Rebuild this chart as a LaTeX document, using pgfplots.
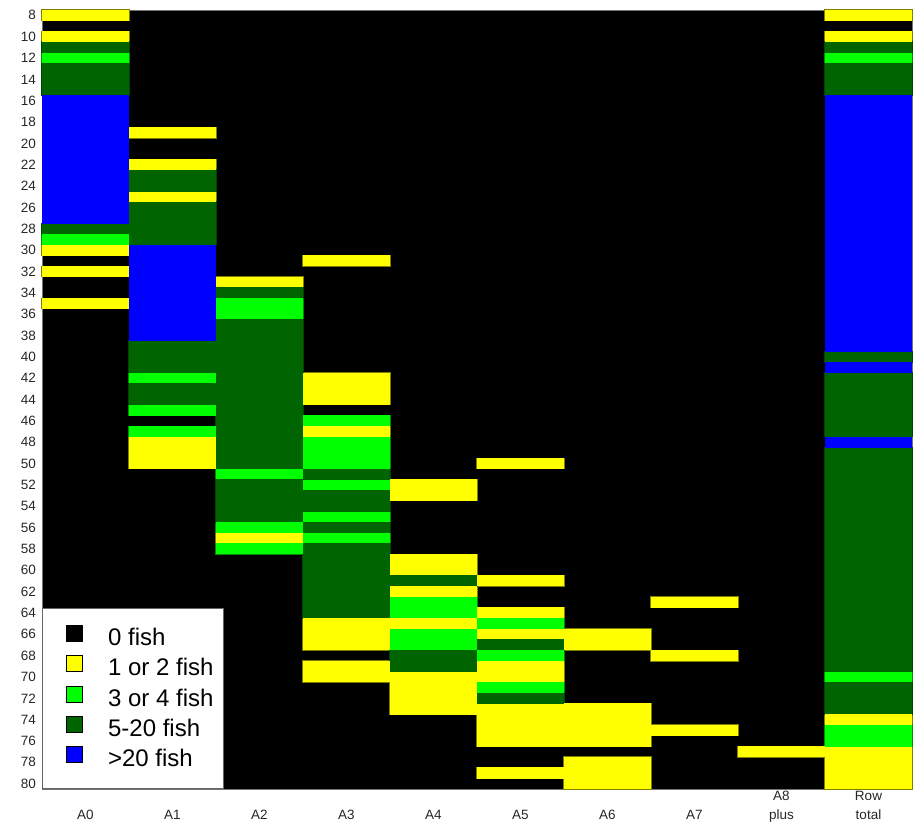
\documentclass[border=0pt]{standalone}
\usepackage{pgfplots}
\usepackage{pgfplotstable}
\pgfplotsset{compat=1.18}
\usepackage{fontspec}
\setmainfont{Liberation Sans}
\definecolor{fyellow}{RGB}{255,255,0}
\definecolor{flgreen}{RGB}{0,255,0}
\definecolor{fdgreen}{RGB}{0,100,0}
\definecolor{fblue}{RGB}{0,0,255}
% one run of cells: width = one column (87pt), height = \nrows rows (10.6712pt each)
\pgfdeclareplotmark{cellrun}{%
  \pgfpathrectangle{\pgfpoint{-43.6pt}{-5.3356pt*\nrows-0.2pt}}{\pgfpoint{87.2pt}{10.6712pt*\nrows+0.4pt}}%
  \pgfusepathqfill}
\pgfdeclareplotmark{cellrunedge}{%
  \pgfpathrectangle{\pgfpoint{-43.5pt}{-5.3356pt*\nrows}}{\pgfpoint{87pt}{10.6712pt*\nrows}}%
  \pgfusepathqstroke}
% runs: column index x (A0=0 ... A8 plus=8, Row total=9), first and last length class
\pgfplotstableread{
x lo hi
0 8 8
0 10 10
0 30 30
0 32 32
0 35 35
1 19 19
1 22 22
1 25 25
1 48 50
2 33 33
2 57 57
3 31 31
3 42 44
3 47 47
3 65 67
3 69 70
4 52 53
4 59 60
4 62 62
4 65 65
4 70 73
5 50 50
5 61 61
5 64 64
5 66 66
5 69 70
5 73 76
5 79 79
6 66 67
6 73 76
6 78 80
7 63 63
7 68 68
7 75 75
8 77 77
9 8 8
9 10 10
9 74 74
9 77 80
}\yellowruns
\pgfplotstableread{
x lo hi
0 12 12
0 29 29
1 42 42
1 45 45
1 47 47
2 35 36
2 51 51
2 56 56
2 58 58
3 46 46
3 48 50
3 52 52
3 55 55
3 57 57
4 63 64
4 66 67
5 65 65
5 68 68
5 71 71
9 12 12
9 70 70
9 75 76
}\lgreenruns
\pgfplotstableread{
x lo hi
0 11 11
0 13 15
0 28 28
1 23 24
1 26 29
1 39 41
1 43 44
2 34 34
2 37 50
2 52 55
3 51 51
3 53 54
3 56 56
3 58 64
4 61 61
4 68 69
5 67 67
5 72 72
9 11 11
9 13 15
9 40 40
9 42 47
9 49 69
9 71 73
}\dgreenruns
\pgfplotstableread{
x lo hi
0 16 27
1 30 38
9 16 39
9 41 41
9 48 48
}\blueruns
\begin{document}
\begin{tikzpicture}
\path[use as bounding box] (-42pt,-40pt) rectangle (872pt,789pt);
\begin{axis}[
  at={(0pt,0pt)}, anchor=south west,
  scale only axis, width=870pt, height=779pt,
  xmin=-0.5, xmax=9.5, ymin=7.5, ymax=80.5, y dir=reverse,
  axis background/.style={fill=black},
  axis line style={draw=black!55, line width=0.8pt},
  axis on top,
  xtick={0,...,9},
  xticklabels={{\phantom{A}\\A0},{\phantom{A}\\A1},{\phantom{A}\\A2},{\phantom{A}\\A3},{\phantom{A}\\A4},{\phantom{A}\\A5},{\phantom{A}\\A6},{\phantom{A}\\A7},{A8\\plus},{Row\\total}},
  ytick={8,10,...,80},
  major tick length=0pt,
  tick label style={font=\fontsize{13.5}{19}\selectfont, text=black!85},
  /pgf/number format/assume math mode=true,
  xticklabel style={align=center, anchor=north, inner sep=0pt, yshift=-2pt},
  yticklabel style={anchor=east, inner sep=0pt, xshift=-6pt},
  legend style={at={(0,0)}, anchor=south west, fill=white, draw=black!60, line width=0.8pt,
    font=\fontsize{24}{28}\selectfont, inner xsep=10pt, inner ysep=17pt, row sep=5pt, column sep=25pt,
    nodes={inner sep=0pt, text height=17pt, text depth=5pt}},
  legend cell align=left,
  legend image code/.code={\path (-14pt,0pt); \draw[#1, draw=black, line width=0.6pt] (0pt,-2pt) rectangle (16pt,14pt);},
  visualization depends on={\thisrow{hi}-\thisrow{lo}+1 \as \nrows},
]
% darker edges first (only their outer half stays visible)
\addplot[only marks, mark=cellrunedge, mark options={draw=fyellow!50!black, line width=1.2pt}, forget plot]
  table[x=x, y expr={(\thisrow{lo}+\thisrow{hi})/2}] {\yellowruns};
\addplot[only marks, mark=cellrunedge, mark options={draw=flgreen!55!black, line width=1.2pt}, forget plot]
  table[x=x, y expr={(\thisrow{lo}+\thisrow{hi})/2}] {\lgreenruns};
\addplot[only marks, mark=cellrunedge, mark options={draw=fdgreen!70!black, line width=1.2pt}, forget plot]
  table[x=x, y expr={(\thisrow{lo}+\thisrow{hi})/2}] {\dgreenruns};
% fills
\addplot[only marks, mark=cellrun, mark options={fill=fyellow, draw=none}, forget plot]
  table[x=x, y expr={(\thisrow{lo}+\thisrow{hi})/2}] {\yellowruns};
\addplot[only marks, mark=cellrun, mark options={fill=flgreen, draw=none}, forget plot]
  table[x=x, y expr={(\thisrow{lo}+\thisrow{hi})/2}] {\lgreenruns};
\addplot[only marks, mark=cellrun, mark options={fill=fdgreen, draw=none}, forget plot]
  table[x=x, y expr={(\thisrow{lo}+\thisrow{hi})/2}] {\dgreenruns};
\addplot[only marks, mark=cellrun, mark options={fill=fblue, draw=none}, forget plot]
  table[x=x, y expr={(\thisrow{lo}+\thisrow{hi})/2}] {\blueruns};
\addlegendimage{fill=black}
\addlegendentry{0 fish}
\addlegendimage{fill=fyellow}
\addlegendentry{1 or 2 fish}
\addlegendimage{fill=flgreen}
\addlegendentry{3 or 4 fish}
\addlegendimage{fill=fdgreen}
\addlegendentry{5-20 fish}
\addlegendimage{fill=fblue}
\addlegendentry{>20 fish}
\end{axis}
\end{tikzpicture}
\end{document}
